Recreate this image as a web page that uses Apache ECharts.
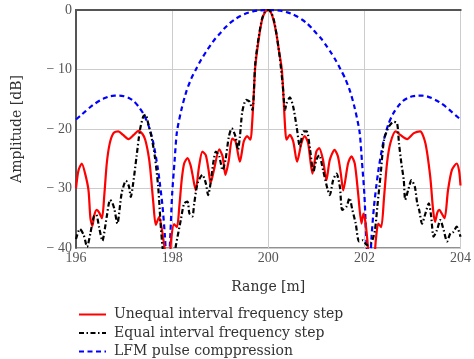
<!DOCTYPE html>
<html>
<head>
<meta charset="utf-8">
<script src="https://cdn.jsdelivr.net/npm/echarts@6/dist/echarts.min.js"></script>
<style>
html,body{margin:0;padding:0;background:#fff;overflow:hidden;width:474px;height:359px;}
#chart{width:474px;height:359px;}
</style>
</head>
<body>
<div id="chart"></div>
<script>
// Unequal interval frequency step (red)
const redX = [196.00,196.05,196.12,196.19,196.26,196.30,196.34,196.38,196.43,196.48,196.54,196.59,196.64,196.70,196.78,196.88,196.98,197.09,197.20,197.30,197.38,197.44,197.50,197.54,197.61,197.66,197.73,197.78,197.84,197.90,197.95,197.98,198.04,198.10,198.15,198.20,198.25,198.32,198.38,198.42,198.49,198.56,198.63,198.70,198.76,198.80,198.87,198.98,199.05,199.11,199.18,199.25,199.32,199.41,199.49,199.56,199.63,199.66,199.70,199.73,199.80,199.87,199.93,200.00,200.06,200.11,200.17,200.22,200.28,200.31,200.35,200.38,200.45,200.52,200.60,200.69,200.76,200.83,200.92,201.00,201.06,201.14,201.21,201.28,201.38,201.45,201.51,201.56,201.66,201.73,201.80,201.87,201.94,201.98,202.02,202.06,202.12,202.20,202.24,202.29,202.35,202.41,202.47,202.54,202.65,202.75,202.89,203.03,203.16,203.27,203.37,203.43,203.47,203.52,203.56,203.61,203.67,203.74,203.82,203.92,203.97,204.00];
const redY = [-30.0,-27.0,-25.8,-27.5,-30.3,-35.0,-36.3,-34.5,-33.6,-34.0,-35.0,-31.0,-25.8,-22.5,-20.7,-20.4,-21.0,-21.7,-21.0,-20.3,-20.8,-21.8,-24.0,-26.3,-32.5,-36.1,-34.8,-36.5,-39.8,-43.0,-42.0,-38.5,-36.0,-36.5,-33.0,-28.5,-25.8,-24.9,-26.0,-27.5,-30.3,-26.3,-23.8,-24.4,-27.0,-29.1,-26.9,-23.4,-24.6,-27.7,-25.2,-21.6,-22.1,-25.5,-22.1,-21.2,-21.8,-19.6,-14.0,-9.5,-5.0,-1.7,-0.4,0.0,-0.5,-1.7,-4.0,-6.7,-9.8,-13.5,-19.6,-21.8,-21.0,-22.1,-25.5,-22.4,-21.2,-22.4,-27.5,-23.8,-23.2,-25.2,-28.6,-25.2,-23.5,-24.6,-27.5,-30.3,-25.8,-24.6,-25.8,-30.8,-35.9,-34.2,-35.5,-38.5,-43.0,-42.0,-38.5,-35.9,-36.5,-31.4,-25.8,-22.4,-20.4,-21.0,-21.7,-20.7,-20.4,-22.4,-28.0,-33.6,-35.6,-34.0,-33.6,-34.2,-35.0,-30.3,-26.9,-25.8,-27.0,-29.5];

// Equal interval frequency step (black)
const blackX = [196.00,196.08,196.16,196.23,196.30,196.37,196.42,196.48,196.55,196.60,196.64,196.71,196.76,196.80,196.86,196.95,197.04,197.10,197.14,197.19,197.26,197.33,197.40,197.45,197.50,197.57,197.64,197.71,197.76,197.80,197.85,198.00,198.08,198.18,198.25,198.32,198.36,198.42,198.46,198.53,198.63,198.70,198.75,198.80,198.86,198.91,198.98,199.05,199.11,199.18,199.24,199.32,199.37,199.41,199.46,199.54,199.61,199.67,199.73,199.80,199.87,199.93,200.00,200.06,200.12,200.18,200.24,200.30,200.35,200.38,200.45,200.52,200.59,200.66,200.73,200.80,200.87,200.94,201.00,201.06,201.14,201.23,201.28,201.35,201.42,201.49,201.54,201.63,201.69,201.75,201.82,201.89,201.97,202.05,202.15,202.22,202.27,202.34,202.41,202.51,202.61,202.68,202.72,202.77,202.82,202.85,202.91,202.98,203.05,203.10,203.14,203.20,203.27,203.34,203.39,203.44,203.51,203.58,203.65,203.72,203.79,203.85,203.92,204.00];
const blackY = [-38.5,-36.8,-37.8,-39.8,-37.5,-34.7,-34.4,-36.5,-38.8,-36.8,-34.7,-31.9,-32.5,-33.5,-35.9,-30.8,-28.7,-29.6,-31.4,-29.1,-24.6,-20.2,-17.9,-17.6,-19.0,-21.3,-24.6,-29.7,-35.9,-39.8,-43.0,-43.0,-39.5,-35.3,-32.5,-32.2,-34.2,-34.7,-32.5,-29.1,-27.7,-29.1,-31.1,-29.1,-25.5,-23.8,-24.6,-26.9,-25.2,-21.3,-19.9,-21.3,-23.5,-21.3,-17.1,-15.1,-15.4,-16.8,-9.0,-4.6,-1.5,-0.3,0.0,-0.4,-1.8,-4.5,-8.0,-12.5,-16.8,-15.7,-14.7,-16.3,-19.6,-23.0,-20.4,-20.4,-23.5,-27.2,-25.2,-24.4,-26.9,-30.0,-31.1,-28.6,-27.5,-29.7,-33.6,-33.0,-31.6,-33.6,-35.9,-38.9,-38.7,-39.5,-39.0,-37.0,-33.0,-27.5,-21.8,-19.6,-18.8,-19.0,-22.4,-25.8,-28.6,-31.9,-30.3,-28.6,-29.7,-32.5,-33.6,-35.9,-34.2,-32.5,-34.7,-38.1,-37.0,-35.3,-37.0,-38.9,-37.5,-37.3,-36.4,-38.1];

// LFM pulse compression (blue)
const blueX = [196.0,196.1,196.2,196.3,196.4,196.5,196.6,196.7,196.8,196.9,197.0,197.1,197.2,197.3,197.4,197.5,197.6,197.7,197.75,197.8,197.85,197.9,197.95,198.0,198.05,198.1,198.2,198.3,198.4,198.5,198.6,198.7,198.8,198.9,199.0,199.1,199.2,199.3,199.4,199.5,199.6,199.7,199.8,199.9,200.0,200.1,200.2,200.3,200.4,200.5,200.6,200.7,200.8,200.9,201.0,201.1,201.2,201.3,201.4,201.5,201.6,201.7,201.8,201.9,201.95,202.0,202.05,202.1,202.15,202.2,202.25,202.3,202.4,202.5,202.6,202.7,202.8,202.9,203.0,203.1,203.2,203.3,203.4,203.5,203.6,203.7,203.8,203.9,204.0];
const blueY = [-18.4,-17.7,-17.0,-16.3,-15.7,-15.2,-14.8,-14.5,-14.4,-14.4,-14.5,-14.8,-15.3,-16.2,-17.4,-19.2,-22.0,-26.5,-29.5,-33.0,-38.0,-45.0,-40.0,-31.0,-25.5,-20.5,-16.5,-13.6,-11.5,-9.9,-8.4,-7.1,-5.9,-4.8,-3.9,-3.0,-2.2,-1.6,-1.1,-0.7,-0.4,-0.2,-0.08,-0.02,0.0,-0.02,-0.08,-0.2,-0.4,-0.7,-1.1,-1.6,-2.2,-3.0,-3.9,-4.8,-5.9,-7.1,-8.4,-9.9,-11.5,-13.6,-16.5,-20.5,-25.5,-31.0,-40.0,-45.0,-38.0,-33.0,-29.5,-26.5,-22.0,-19.2,-17.4,-16.2,-15.3,-14.8,-14.5,-14.4,-14.4,-14.5,-14.8,-15.2,-15.7,-16.3,-17.0,-17.7,-18.4];

const seriesNames = ['Unequal interval frequency step','Equal interval frequency step','LFM pulse comppression'];
const xTicks = [196,198,200,202,204];
const yTicks = [0,-10,-20,-30,-40];

const zip = (xs, ys) => xs.map((x, i) => [x, ys[i]]);
const serif = 'DejaVu Serif';

const chart = echarts.init(document.getElementById('chart'), null, {renderer: 'canvas', width: 474, height: 359});
chart.setOption({
  animation: false,
  backgroundColor: '#fff',
  grid: {left: 76, right: 9, top: 10, bottom: 111, show: true, borderColor: '#222', borderWidth: 1, containLabel: false},
  xAxis: [{
    type: 'value', min: xTicks[0], max: xTicks[xTicks.length-1], interval: 2,
    name: 'Range [m]', nameLocation: 'middle', nameGap: 32,
    nameTextStyle: {fontFamily: serif, fontSize: 14, color: '#333'},
    axisLine: {show: true, lineStyle: {color: '#555', width: 2}},
    axisTick: {show: false},
    axisLabel: {fontFamily: 'Liberation Serif', fontSize: 14, color: '#555', margin: 3},
    splitLine: {show: true, lineStyle: {color: '#cccccc', width: 1}}
  }, {
    type: 'value', position: 'top', min: xTicks[0], max: xTicks[xTicks.length-1], interval: 2,
    axisLine: {show: true, lineStyle: {color: '#555', width: 2}},
    axisTick: {show: false}, axisLabel: {show: false}, splitLine: {show: false}
  }],
  yAxis: {
    type: 'value', min: yTicks[yTicks.length-1], max: yTicks[0], interval: 10,
    name: 'Amplitude [dB]', nameLocation: 'middle', nameGap: 52, nameRotate: 90,
    nameTextStyle: {fontFamily: serif, fontSize: 14, color: '#333'},
    axisLine: {show: true, lineStyle: {color: '#555', width: 2}},
    axisTick: {show: false},
    axisLabel: {fontFamily: 'Liberation Serif', fontSize: 14, color: '#555', margin: 4,
      formatter: v => v === 0 ? '0' : '\u2212 ' + Math.abs(v)},
    splitLine: {show: true, lineStyle: {color: '#cccccc', width: 1}}
  },
  legend: {
    orient: 'vertical', left: 78, top: 306, padding: 0, height: 60,
    itemWidth: 27, itemHeight: 12, itemGap: 1.5,
    itemStyle: {opacity: 0},
    textStyle: {fontFamily: serif, fontSize: 14, lineHeight: 17, color: '#333', padding: [0,0,0,3]},
    data: seriesNames
  },
  series: [
    {name: seriesNames[0], type: 'line', data: zip(redX, redY), symbol: 'none', smooth: 0.25,
     lineStyle: {color: '#ff0000', width: 2.2}, itemStyle: {color: '#ff0000'}, z: 3},
    {name: seriesNames[1], type: 'line', data: zip(blackX, blackY), symbol: 'none', smooth: 0.25,
     lineStyle: {color: '#000000', width: 2.2, type: [5, 2.5, 1.5, 2.5]}, itemStyle: {color: '#000'}, z: 4},
    {name: seriesNames[2], type: 'line', data: zip(blueX, blueY), symbol: 'none', smooth: 0.25,
     lineStyle: {color: '#0000ff', width: 2.2, type: [5, 3.5]}, itemStyle: {color: '#0000ff'}, z: 2}
  ]
});
</script>
</body>
</html>
